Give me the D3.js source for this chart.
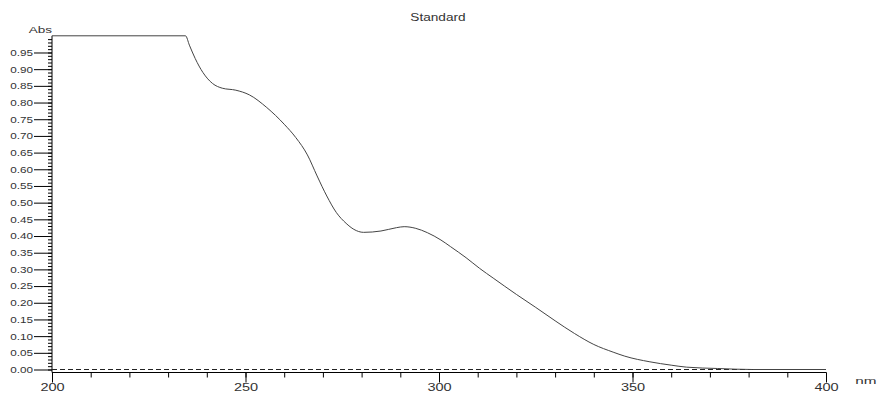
<!DOCTYPE html>
<html>
<head>
<meta charset="utf-8">
<script src="https://cdn.jsdelivr.net/npm/d3@7"></script>
<style>
  body { margin: 0; background: #fff; }
  svg text { font-family: "Liberation Sans", Arial, sans-serif; fill: #333; }
</style>
</head>
<body>
<script>
// spectrum (values above 1 are clipped by the instrument)
const wavelengths = [200, 234.5, 235.5, 237, 239, 241.5, 244, 247.5, 251, 255.5, 260, 263, 266, 268.5, 271, 273.5, 276, 278, 280.5, 285, 289, 291, 294, 297, 300.5, 303, 307, 310.5, 314, 320, 325, 330, 335, 340, 345, 348, 354.5, 360, 364, 372, 381, 400];
const absorbance = [1.0, 1.0, 0.972, 0.932, 0.89, 0.857, 0.843, 0.837, 0.823, 0.785, 0.735, 0.695, 0.643, 0.58, 0.52, 0.47, 0.438, 0.42, 0.411, 0.415, 0.425, 0.428, 0.423, 0.41, 0.388, 0.368, 0.335, 0.303, 0.274, 0.225, 0.186, 0.146, 0.108, 0.075, 0.052, 0.04, 0.023, 0.013, 0.007, 0.003, 0.0, 0.0];
const xMajorTicks = [200, 250, 300, 350, 400];
const yMajorTicks = [0, 0.05, 0.1, 0.15, 0.2, 0.25, 0.3, 0.35, 0.4, 0.45, 0.5, 0.55, 0.6, 0.65, 0.7, 0.75, 0.8, 0.85, 0.9, 0.95];
const title = "Standard";

const width = 879,
    height = 393,
    x = d3.scaleLinear().domain([200, 400]).range([52, 826]),
    y = d3.scaleLinear().domain([0, 1]).range([369.5, 35.8]),
    axisY = 372.5,
    svg = d3.select("body").append("svg")
        .attr("width", width)
        .attr("height", height);

const data = wavelengths.map((w, i) => ({ w, a: absorbance[i] }));

// the scanned original has wide, squat lettering
const stretch = (sel, k) => sel.each(function () {
    const len = this.getComputedTextLength();
    d3.select(this).attr("textLength", len * k).attr("lengthAdjust", "spacingAndGlyphs");
});

// y axis: minor ticks every 0.01, major every 0.05
svg.append("g")
    .attr("transform", "translate(" + x(200) + ",0)")
    .call(d3.axisLeft(y).tickValues(d3.range(0, 100).map(i => i / 100)).tickSize(4).tickFormat(""))
    .call(g => g.select(".domain").remove());

svg.append("g")
    .attr("transform", "translate(" + x(200) + ",0)")
    .call(d3.axisLeft(y).tickValues(yMajorTicks).tickSize(18).tickPadding(1).tickFormat(d3.format(".2f")))
    .call(g => g.select(".domain").remove())
    .call(g => g.selectAll("text").attr("font-size", 9).style("font-family", null).call(stretch, 1.3));

// x axis: minor ticks every 10 nm, major every 50
svg.append("g")
    .attr("transform", "translate(0," + axisY + ")")
    .call(d3.axisBottom(x).tickValues(d3.range(200, 401, 10)).tickSize(5).tickFormat(""))
    .call(g => g.select(".domain").remove());

svg.append("g")
    .attr("transform", "translate(0," + axisY + ")")
    .call(d3.axisBottom(x).tickValues(xMajorTicks).tickSize(10).tickPadding(1).tickFormat(d3.format("d")))
    .call(g => g.select(".domain").remove())
    .call(g => g.selectAll("text").attr("font-size", 10).style("font-family", null).call(stretch, 1.45));

// axis lines
svg.append("line")
    .attr("x1", x(200)).attr("x2", x(200))
    .attr("y1", y(1)).attr("y2", axisY)
    .attr("stroke", "#000");
svg.append("line")
    .attr("x1", x(200)).attr("x2", x(400))
    .attr("y1", axisY).attr("y2", axisY)
    .attr("stroke", "#000");

// zero baseline
svg.append("line")
    .attr("x1", x(200)).attr("x2", x(400))
    .attr("y1", y(0)).attr("y2", y(0))
    .attr("stroke", "#222")
    .attr("stroke-dasharray", "5,3");

// spectrum
const line = d3.line()
    .x(d => x(d.w))
    .y(d => y(d.a))
    .curve(d3.curveMonotoneX);

svg.append("path")
    .datum(data)
    .attr("fill", "none")
    .attr("stroke", "#444")
    .attr("stroke-width", 1)
    .attr("d", line);

// labels
svg.append("text")
    .attr("x", x(200))
    .attr("y", 33)
    .attr("text-anchor", "end")
    .attr("font-size", 9)
    .text("Abs")
    .call(stretch, 1.5);

svg.append("text")
    .attr("x", 866)
    .attr("y", 384)
    .attr("text-anchor", "middle")
    .attr("font-size", 9)
    .text("nm")
    .call(stretch, 1.7);

svg.append("text")
    .attr("x", 438)
    .attr("y", 21)
    .attr("text-anchor", "middle")
    .attr("font-size", 10.5)
    .text(title)
    .call(stretch, 1.3);
</script>
</body>
</html>
